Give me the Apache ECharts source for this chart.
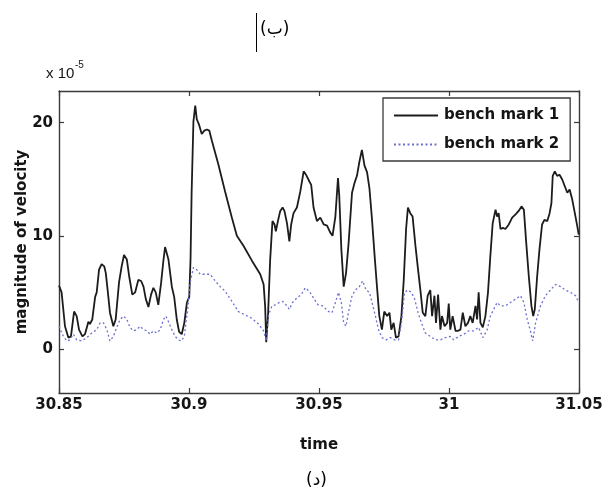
<!DOCTYPE html>
<html>
<head>
<meta charset="utf-8">
<script src="https://cdn.jsdelivr.net/npm/echarts@6/dist/echarts.min.js"></script>
<style>
  html, body { margin: 0; padding: 0; background: #fff; }
  #chart { width: 608px; height: 490px; }
</style>
</head>
<body>
<div id="chart"></div>
<script>
// Sample times (s) and velocity magnitudes (x 1e-5) for the two bench marks
const timeMark1 = [
  30.8500, 30.8510, 30.8523, 30.8536, 30.8546, 30.8558, 30.8568, 30.8577, 30.8590, 30.8600,
  30.8613, 30.8619, 30.8628, 30.8639, 30.8645, 30.8654, 30.8664, 30.8674, 30.8680, 30.8688,
  30.8696, 30.8709, 30.8718, 30.8731, 30.8741, 30.8750, 30.8761, 30.8770, 30.8782, 30.8793,
  30.8805, 30.8816, 30.8825, 30.8834, 30.8844, 30.8854, 30.8863, 30.8872, 30.8882, 30.8893,
  30.8902, 30.8908, 30.8921, 30.8934, 30.8943, 30.8953, 30.8962, 30.8972, 30.8982, 30.8992,
  30.9001, 30.9006, 30.9010, 30.9017, 30.9024, 30.9030, 30.9039, 30.9049, 30.9059, 30.9069,
  30.9078, 30.9088, 30.9113, 30.9139, 30.9165, 30.9184, 30.9210, 30.9242, 30.9274, 30.9287,
  30.9293, 30.9297, 30.9304, 30.9312, 30.9321, 30.9329, 30.9334, 30.9342, 30.9351, 30.9360,
  30.9367, 30.9377, 30.9386, 30.9393, 30.9402, 30.9415, 30.9428, 30.9441, 30.9450, 30.9463,
  30.9470, 30.9479, 30.9492, 30.9505, 30.9518, 30.9531, 30.9543, 30.9552, 30.9563, 30.9573,
  30.9578, 30.9586, 30.9595, 30.9604, 30.9614, 30.9627, 30.9637, 30.9646, 30.9655, 30.9665,
  30.9675, 30.9685, 30.9694, 30.9704, 30.9714, 30.9723, 30.9732, 30.9742, 30.9751, 30.9762,
  30.9771, 30.9778, 30.9787, 30.9796, 30.9806, 30.9817, 30.9826, 30.9835, 30.9842, 30.9851,
  30.9860, 30.9871, 30.9881, 30.9890, 30.9899, 30.9909, 30.9918, 30.9928, 30.9935, 30.9944,
  30.9950, 30.9958, 30.9967, 30.9973, 30.9983, 30.9993, 30.9999, 31.0005, 31.0014, 31.0025,
  31.0035, 31.0044, 31.0053, 31.0063, 31.0073, 31.0082, 31.0091, 31.0102, 31.0108, 31.0114,
  31.0121, 31.0130, 31.0140, 31.0150, 31.0159, 31.0168, 31.0179, 31.0185, 31.0191, 31.0198,
  31.0207, 31.0217, 31.0230, 31.0243, 31.0256, 31.0268, 31.0279, 31.0288, 31.0297, 31.0307,
  31.0317, 31.0324, 31.0330, 31.0339, 31.0348, 31.0358, 31.0367, 31.0378, 31.0387, 31.0394,
  31.0399, 31.0407, 31.0416, 31.0425, 31.0435, 31.0445, 31.0455, 31.0464, 31.0474, 31.0484,
  31.0493, 31.0499
];
const velocityMark1 = [
  5.6, 5.0, 2.0, 1.0, 1.1, 3.3, 2.9, 1.7, 1.1, 1.3,
  2.4, 2.2, 2.6, 4.6, 5.0, 7.0, 7.5, 7.3, 6.7, 5.0,
  3.2, 2.0, 2.6, 5.9, 7.3, 8.3, 7.9, 6.4, 4.8, 5.0,
  6.1, 6.0, 5.5, 4.4, 3.7, 4.8, 5.4, 5.0, 3.9, 5.9,
  7.9, 9.0, 7.9, 5.5, 4.6, 2.6, 1.5, 1.3, 2.3, 4.1,
  4.6, 8.0, 13.7, 20.1, 21.5, 20.3, 19.8, 19.0, 19.3, 19.4,
  19.3, 18.4, 16.3, 13.9, 11.6, 10.0, 9.1, 7.8, 6.6, 5.7,
  3.7, 0.6, 3.0, 7.8, 11.3, 11.0, 10.4, 11.3, 12.2, 12.5,
  12.2, 11.1, 9.5, 11.0, 12.0, 12.5, 13.9, 15.7, 15.4, 14.8,
  14.5, 12.5, 11.3, 11.6, 11.0, 10.9, 10.3, 10.0, 11.7, 15.1,
  13.5, 8.8, 5.5, 6.7, 9.4, 13.8, 14.7, 15.3, 16.5, 17.6,
  16.2, 15.6, 14.2, 11.4, 8.2, 5.5, 2.9, 1.7, 3.3, 2.9,
  3.2, 1.7, 2.3, 1.0, 1.1, 2.9, 6.1, 10.6, 12.5, 12.0,
  11.7, 9.1, 7.0, 5.2, 3.2, 2.9, 4.7, 5.2, 2.9, 4.7,
  2.3, 4.8, 1.7, 2.9, 2.0, 2.3, 4.0, 1.7, 2.9, 1.6,
  1.6, 1.7, 3.2, 2.0, 2.3, 2.9, 2.3, 3.8, 2.6, 5.0,
  2.3, 1.9, 2.9, 5.0, 8.2, 11.1, 12.3, 11.7, 12.0, 10.6,
  10.7, 10.6, 11.0, 11.6, 11.9, 12.2, 12.6, 12.3, 9.4, 6.4,
  3.8, 2.9, 3.5, 6.4, 8.8, 11.0, 11.4, 11.3, 12.0, 12.9,
  15.3, 15.7, 15.3, 15.4, 15.0, 14.4, 13.8, 14.1, 13.2, 12.0,
  10.9, 10.1
];

const timeMark2 = [
  30.8500, 30.8517, 30.8530, 30.8542, 30.8555, 30.8568, 30.8587, 30.8607, 30.8626, 30.8645,
  30.8658, 30.8671, 30.8684, 30.8696, 30.8709, 30.8722, 30.8735, 30.8748, 30.8761, 30.8773,
  30.8786, 30.8799, 30.8812, 30.8825, 30.8838, 30.8850, 30.8863, 30.8876, 30.8889, 30.8902,
  30.8911, 30.8921, 30.8934, 30.8947, 30.8959, 30.8970, 30.8982, 30.8995, 30.9004, 30.9017,
  30.9030, 30.9043, 30.9062, 30.9081, 30.9101, 30.9120, 30.9139, 30.9165, 30.9190, 30.9216,
  30.9242, 30.9267, 30.9287, 30.9297, 30.9306, 30.9319, 30.9332, 30.9347, 30.9360, 30.9373,
  30.9386, 30.9398, 30.9415, 30.9432, 30.9447, 30.9463, 30.9479, 30.9496, 30.9514, 30.9537,
  30.9550, 30.9563, 30.9575, 30.9586, 30.9595, 30.9604, 30.9614, 30.9627, 30.9640, 30.9655,
  30.9668, 30.9681, 30.9694, 30.9704, 30.9717, 30.9729, 30.9742, 30.9758, 30.9774, 30.9791,
  30.9806, 30.9817, 30.9829, 30.9842, 30.9855, 30.9868, 30.9881, 30.9894, 30.9909, 30.9928,
  30.9948, 30.9967, 30.9986, 31.0005, 31.0018, 31.0037, 31.0057, 31.0076, 31.0095, 31.0114,
  31.0130, 31.0147, 31.0159, 31.0172, 31.0185, 31.0198, 31.0217, 31.0236, 31.0256, 31.0275,
  31.0288, 31.0301, 31.0313, 31.0322, 31.0333, 31.0352, 31.0371, 31.0390, 31.0410, 31.0429,
  31.0448, 31.0467, 31.0487, 31.0499
];
const velocityMark2 = [
  2.0, 1.1, 0.7, 0.8, 1.3, 0.8, 0.7, 1.0, 1.4, 1.7,
  2.3, 2.3, 1.7, 0.7, 1.1, 1.9, 2.6, 2.9, 2.6, 1.9,
  1.6, 1.7, 2.0, 1.7, 1.6, 1.3, 1.6, 1.4, 1.7, 2.6,
  2.9, 2.4, 1.7, 1.1, 0.8, 0.7, 1.1, 3.5, 5.8, 7.2,
  7.0, 6.6, 6.6, 6.6, 6.0, 5.5, 5.1, 4.2, 3.3, 3.0,
  2.7, 2.2, 1.6, 0.7, 3.0, 3.8, 3.9, 4.1, 4.2, 3.9,
  3.5, 4.1, 4.5, 4.8, 5.4, 5.1, 4.5, 3.9, 3.8, 3.3,
  3.2, 4.1, 5.0, 4.1, 2.3, 2.0, 3.3, 4.7, 5.2, 5.5,
  6.0, 5.2, 5.0, 4.1, 2.9, 1.7, 1.0, 0.8, 1.0, 0.8,
  0.8, 2.3, 5.0, 5.2, 5.0, 4.4, 3.2, 2.3, 1.4, 1.1,
  0.8, 0.8, 1.0, 1.1, 0.8, 1.1, 1.3, 1.6, 1.6, 1.9,
  1.0, 1.7, 2.9, 3.5, 4.1, 3.8, 3.8, 4.1, 4.4, 4.7,
  4.1, 2.6, 1.6, 0.7, 2.3, 3.8, 4.7, 5.2, 5.7, 5.5,
  5.2, 5.0, 4.7, 4.1
];

const seriesNames = ['bench mark 1', 'bench mark 2'];
const timeTicks = [30.85, 31.05, 0.05];      // min, max, step
const velocityTicks = [0, 10, 20];

const pairs = (xs, ys) => xs.map((x, i) => [x, ys[i]]);

const tickFont = {
  fontFamily: 'DejaVu Sans',
  fontWeight: 'bold',
  fontSize: 15,
  color: '#151515'
};
const frame = { lineStyle: { color: '#3a3a3a', width: 1.4 } };

const chart = echarts.init(document.getElementById('chart'), null, { renderer: 'canvas' });

const hiddenLabels = { show: false };
const innerTick = (vals) => ({
  show: true, inside: true, length: 5,
  lineStyle: { color: '#3a3a3a', width: 1.2 },
  customValues: vals
});

chart.setOption({
  backgroundColor: '#ffffff',
  animation: false,
  grid: { left: 59, right: 29, top: 91, bottom: 97, containLabel: false, outerBoundsMode: 'none' },
  xAxis: [
    {
      type: 'value', position: 'bottom',
      min: timeTicks[0], max: timeTicks[1], interval: timeTicks[2],
      axisLine: { show: true, onZero: false, ...frame },
      axisTick: { show: true, inside: true, length: 5, lineStyle: { color: '#3a3a3a', width: 1.2 } },
      axisLabel: { ...tickFont, margin: 5, showMinLabel: true, showMaxLabel: true },
      splitLine: { show: false },
      name: 'time', nameLocation: 'middle', nameGap: 45,
      nameTextStyle: { fontFamily: 'DejaVu Sans', fontWeight: 'bold', fontSize: 15, color: '#151515' }
    },
    {
      type: 'value', position: 'top',
      min: timeTicks[0], max: timeTicks[1], interval: timeTicks[2],
      axisLine: { show: true, onZero: false, ...frame },
      axisTick: { show: true, inside: true, length: 5, lineStyle: { color: '#3a3a3a', width: 1.2 } },
      axisLabel: hiddenLabels,
      splitLine: { show: false }
    }
  ],
  yAxis: [
    {
      type: 'value', position: 'left',
      min: -3.9, max: 22.8,
      axisLine: { show: true, onZero: false, ...frame },
      axisTick: innerTick(velocityTicks),
      axisLabel: { ...tickFont, margin: 6, customValues: velocityTicks },
      splitLine: { show: false },
      name: 'magnitude of velocity', nameLocation: 'middle', nameGap: 29, nameRotate: 90,
      nameMoveOverlap: false,
      nameTextStyle: { fontFamily: 'DejaVu Sans', fontWeight: 'bold', fontSize: 15, color: '#151515' }
    },
    {
      type: 'value', position: 'right',
      min: -3.9, max: 22.8,
      axisLine: { show: true, onZero: false, ...frame },
      axisTick: innerTick(velocityTicks),
      axisLabel: { show: false, customValues: velocityTicks },
      splitLine: { show: false }
    }
  ],
  legend: {
    show: true,
    orient: 'vertical',
    left: 383, top: 98,
    padding: [10, 11, 9, 10],
    itemWidth: 44, itemHeight: 14, itemGap: 14,
    backgroundColor: '#ffffff',
    borderColor: '#3a3a3a', borderWidth: 1.3, borderRadius: 0,
    data: seriesNames,
    // keys show only the line stroke, no marker
    itemStyle: { opacity: 0 },
    textStyle: {
      fontFamily: 'DejaVu Sans', fontWeight: 'bold', fontSize: 15, color: '#151515',
      padding: [0, 0, 0, 1]
    }
  },
  graphic: [
    { type: 'line', shape: { x1: 256.5, y1: 13, x2: 256.5, y2: 52 }, style: { stroke: '#000', lineWidth: 1 } },
    { type: 'text', left: 260, top: 21,
      style: { text: '(ب)', font: '17px "DejaVu Sans"', fill: '#000' } },
    { type: 'text', left: 306, top: 472,
      style: { text: '(د)', font: '17px "DejaVu Sans"', fill: '#000' } },
    { type: 'text', left: 46, top: 66,
      style: { text: 'x 10', font: '15px "Liberation Sans"', fill: '#151515' } },
    { type: 'text', left: 75, top: 60,
      style: { text: '-5', font: '10px "Liberation Sans"', fill: '#151515' } }
  ],
  series: [
    {
      name: seriesNames[0], type: 'line', xAxisIndex: 0, yAxisIndex: 0,
      data: pairs(timeMark1, velocityMark1),
      symbol: 'none', smooth: false,
      lineStyle: { color: '#1c1c1c', width: 1.8 },
      itemStyle: { color: '#1c1c1c' }
    },
    {
      name: seriesNames[1], type: 'line', xAxisIndex: 0, yAxisIndex: 0,
      data: pairs(timeMark2, velocityMark2),
      symbol: 'none', smooth: false,
      lineStyle: { color: '#6b70cf', width: 1.3, type: [2, 2.5] },
      itemStyle: { color: '#6b70cf' }
    }
  ]
});
</script>
</body>
</html>
